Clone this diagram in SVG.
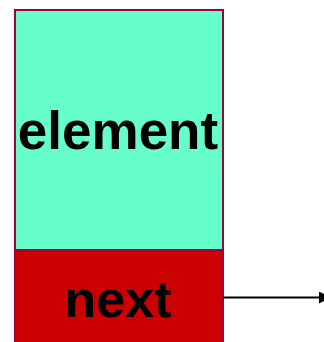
<svg xmlns="http://www.w3.org/2000/svg" width="324" height="342" viewBox="0 0 324 342">
<style>
.box{stroke:#A0003C;stroke-width:2}
.lbl{font-family:"Liberation Sans",Arial,sans-serif;font-weight:bold;font-size:52px;fill:#000;text-anchor:middle}
</style>
<defs>
<marker id="ah" markerWidth="12" markerHeight="12" refX="0" refY="6" orient="auto" markerUnits="userSpaceOnUse">
<path d="M0,0 L12,6 L0,12 Z" fill="#000"/>
</marker>
</defs>
<g id="element">
<rect class="box" x="15" y="10" width="208" height="240" fill="#66FFCC"/>
<text class="lbl" x="118" y="149" style="font-size:53px">element</text>
</g>
<g id="next">
<rect class="box" x="15" y="250" width="208" height="110" fill="#CC0000"/>
<text class="lbl" x="118" y="317">next</text>
</g>
<g id="connectors">
<line x1="223" y1="297.5" x2="319" y2="297.5" stroke="#000" stroke-width="2" marker-end="url(#ah)"/>
</g>
</svg>
